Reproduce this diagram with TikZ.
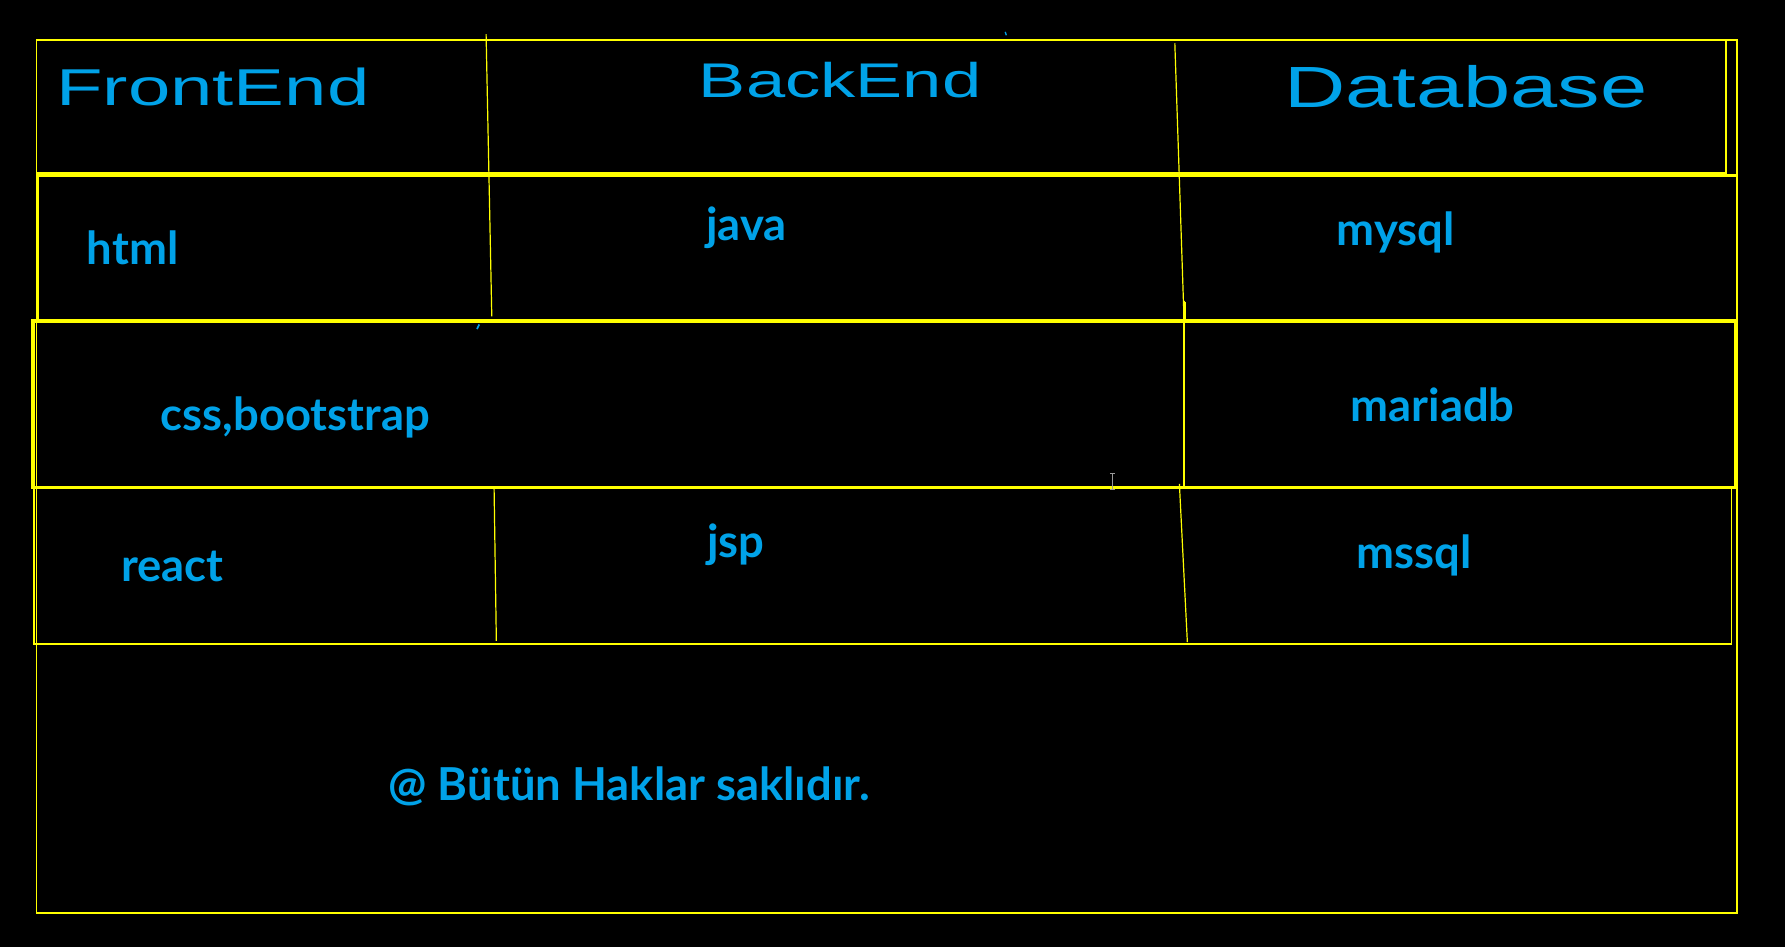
\documentclass[tikz,border=0pt]{standalone}
\usepackage{fontspec}
\setmainfont{Lato}
\newfontfamily\handfont{Liberation Sans}
\definecolor{inkblue}{RGB}{0,162,232}
\definecolor{lineyellow}{RGB}{255,255,0}
\begin{document}
\begin{tikzpicture}[x=0.02cm,y=-0.02cm,
	rowline/.style={draw=lineyellow,line width=0.85pt},
	rowbold/.style={draw=lineyellow,line width=1.7pt},
	colline/.style={draw=lineyellow,line width=0.6pt},
	celltext/.style={text=inkblue,font=\fontsize{22.7}{27}\selectfont\bfseries,anchor=base west,inner sep=0pt},
	headtext/.style={text=inkblue,font=\handfont,inner sep=0pt}]
			\def\picw{1568}
			\def\pich{832}
			\fill[black] (0,0) rectangle (\picw,\pich);
			% table frame and rows
			\draw[rowline] (32,35) rectangle (1526,802);
			\draw[rowline] (32,35) rectangle (1516,152);
			\draw[rowline,line width=1.2pt] (33,154) rectangle (1526,281);
			\draw[rowbold] (29,282) rectangle (1525,428);
			\draw[rowline] (30,428) rectangle (1521,566);
			% column strokes
			\draw[colline] (427,30)--(432,278);
			\draw[colline] (434,428)--(436,563);
			\draw[colline] (1032,38)--(1040,278);
			\draw[colline] (1040,264)--(1040,429);
			\draw[colline,line width=1.1pt] (1041,265)--(1041,280);
			\draw[colline] (1036,425)--(1043,564);
			% stray pen marks
			\draw[inkblue,line width=0.7pt] (883,28)--(884,31);
			\draw[inkblue,line width=0.8pt] (419,289)--(421,285);
			\draw[gray!80,line width=0.6pt] (977,416)--(977,430) (975,416)--(979,416) (975,430)--(979,430);
			% headings
			\node[headtext] (front) at (187,76) {\resizebox{5.5cm}{0.66cm}{FrontEnd}};
			\node[headtext] (back) at (738,70.5) {\resizebox{4.96cm}{0.62cm}{BackEnd}};
			\node[headtext] (data) at (1287.5,76.5) {\resizebox{6.38cm}{0.74cm}{Database}};
			% cells
			\node[celltext] (html) at (76,232) {html};
			\node[celltext] (java) at (620,211) {java};
			\node[celltext] (mysql) at (1174,216) {mysql};
			\node[celltext] (css) at (141,378) {css,bootstrap};
			\node[celltext] (mariadb) at (1186,370) {mariadb};
			\node[celltext] (react) at (106,511) {react};
			\node[celltext] (jsp) at (621,490) {jsp};
			\node[celltext] (mssql) at (1191,499) {mssql};
			\node[celltext] (rights) at (341,703) {@ Bütün Haklar saklıdır.};
	\end{tikzpicture}
\end{document}
